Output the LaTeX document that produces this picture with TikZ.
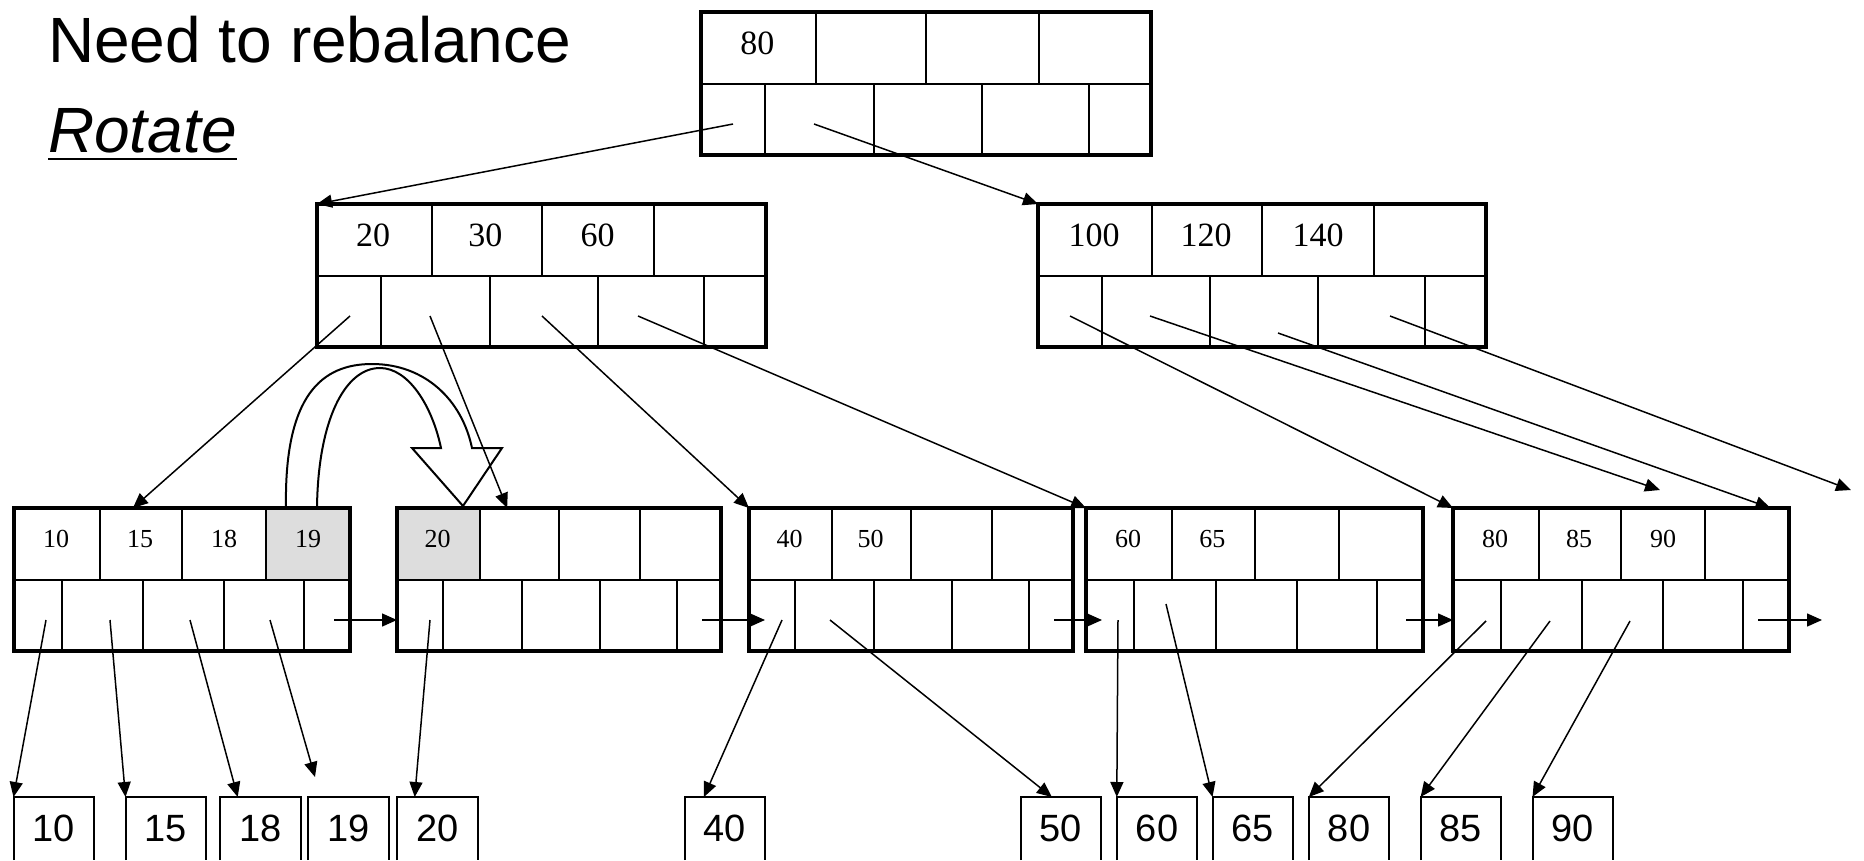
\documentclass[tikz,border=0pt]{standalone}
\usepackage{fontspec}
\setmainfont{Liberation Serif}
\newfontfamily\arialfont{Liberation Sans}
\usepackage{tikz}
\usetikzlibrary{arrows.meta,calc,backgrounds}
\definecolor{Ink}{HTML}{000000}
\definecolor{Shade}{HTML}{DDDDDD}
\tikzset{
  bpage/.style={draw=Ink,line width=4.5pt,minimum height=143pt,outer sep=0pt,inner sep=0pt,anchor=north west},
  cellLine/.style={draw=Ink,line width=2pt},
  dataBox/.style={minimum width=80.5pt,minimum height=63pt,anchor=north west,inner sep=0pt,outer sep=0pt,font=\arialfont\fontsize{38}{40}\selectfont},
  boxLine/.style={draw=Ink,line width=2pt},
  ptr/.style={-{Triangle[length=15pt,width=13pt]},line width=1.5pt,draw=Ink},
  rotArrow/.style={draw=Ink,line width=2pt,line join=miter}
}

\begin{document}
\begin{tikzpicture}[x=1pt,y=-1pt]
  \useasboundingbox (0,0) rectangle (1864,860);

  % heading
  \node[anchor=base west,inner sep=0pt,font=\arialfont\fontsize{64}{70}\selectfont] (title) at (48,62) {Need to rebalance};
  \node[anchor=base west,inner sep=0pt,font=\arialfont\itshape\fontsize{64}{70}\selectfont] (rot) at (48,152) {Rotate};
  \draw[line width=2.7pt] ($(rot.base west)+(0,7)$) -- ($(rot.base east)+(0,7)$);

  % B+ tree pages: keys on top row, pointers below
  \foreach \n/\x/\y/\w/\fs/\keys in {root/701/12/450/34/{80},midL/317/204/449/34/{20,30,60},midR/1038/204/448/34/{100,120,140},
      L1/14/508/336/26/{10,15,18,19},L2/397/508/324/26/{20},L3/749/508/324/26/{40,50},L4/1086/508/337/26/{60,65},L5/1453/508/336/26/{80,85,90}}{
    \node[bpage,minimum width=\w] (\n) at (\x,\y) {};
    \draw[cellLine] (\n.west) -- (\n.east);
    \foreach \f in {.255,.5,.75}{\draw[cellLine] ($(\n.north west)!\f!(\n.north east)$) -- ($(\n.west)!\f!(\n.east)$);}
    \foreach \f in {.143,.385,.625,.863}{\draw[cellLine] ($(\n.west)!\f!(\n.east)$) -- ($(\n.south west)!\f!(\n.south east)$);}
    \foreach \k [count=\i] in \keys{\node[inner sep=0pt,font=\fontsize{\fs}{\fs}\selectfont] (\n-k\i) at ($(\n.north west)!{(\i-.5)/4}!(\n.north east)+(0,31)$) {\k};}
  }
  \begin{scope}[on background layer]
    \fill[Shade] ($(L1.north west)!.75!(L1.north east)$) rectangle (L1.east);
    \fill[Shade] (L2.north west) rectangle ($(L2.west)!.255!(L2.east)$);
  \end{scope}

  % rotation of 19 into the right sibling
  \draw[rotArrow] (286,508) .. controls (284,395) and (322,364) .. (372,364) .. controls (425,364) and (462,400) .. (472,448)
    -- (502,448) -- (463,506) -- (412,448) -- (441,448) .. controls (432,405) and (408,368) .. (380,368) .. controls (345,368) and (318,420) .. (317,508);

  % data records
  \foreach \d/\x in {10/13.5,15/125.5,18/220,19/308,20/397,40/684.6,50/1020.5,60/1116.8,65/1212.5,80/1308.8,85/1420.6,90/1532.5}{
    \node[dataBox] (d\d) at (\x,797) {\d};
    \draw[boxLine] (d\d.south west) |- (d\d.north east) -- (d\d.south east);
  }

  % root and inner pointers
  \coordinate (r1) at (733,124); \coordinate (r2) at (814,124);
  \draw[ptr] (r1) -- (midL.north west);
  \draw[ptr] (r2) -- (midR.north west);
  \coordinate (a1) at (350,316); \coordinate (a2) at (430,316); \coordinate (a3) at (542,316); \coordinate (a4) at (638,316);
  \draw[ptr] (a1) -- ($(L1.north west)!.354!(L1.north east)$);
  \draw[ptr] (a2) -- ($(L2.north west)!.34!(L2.north east)$);
  \draw[ptr] (a3) -- (L3.north west);
  \draw[ptr] (a4) -- (L4.north west);
  \coordinate (b1) at (1070,316); \coordinate (b2) at (1150,316); \coordinate (b3) at (1278,333); \coordinate (b4) at (1390,316);
  \coordinate (e1) at (1660,490); \coordinate (e2) at (1851,490);
  \draw[ptr] (b1) -- (L5.north west);
  \draw[ptr] (b2) -- (e1);
  \draw[ptr] (b3) -- ($(L5.north west)!.945!(L5.north east)$);
  \draw[ptr] (b4) -- (e2);

  % leaf chain
  \coordinate (c1) at (334,620); \coordinate (c2) at (702,620); \coordinate (c3) at (1054,620); \coordinate (c4) at (1406,620);
  \coordinate (c5) at (1758,620); \coordinate (e3) at (1822,620);
  \draw[ptr] (c1) -- (c1 -| L2.west);
  \draw[ptr] (c2) -- ($(c2 -| L3.west)+(16,0)$);
  \draw[ptr] (c3) -- ($(c3 -| L4.west)+(16,0)$);
  \draw[ptr] (c4) -- (c4 -| L5.west);
  \draw[ptr] (c5) -- (e3);

  % leaf pointers to records
  \coordinate (q1) at (46,620); \coordinate (q2) at (110,620); \coordinate (q3) at (190,620); \coordinate (q4) at (270,620);
  \coordinate (q5) at (430,620); \coordinate (q6) at (782,620); \coordinate (q7) at (830,620); \coordinate (q8) at (1118,620);
  \coordinate (q9) at (1166,604); \coordinate (q10) at (1486,621); \coordinate (q11) at (1550,621); \coordinate (q12) at (1630,621);
  \coordinate (e4) at (315,777);
  \draw[ptr] (q1) -- (d10.north west);
  \draw[ptr] (q2) -- (d15.north west);
  \draw[ptr] (q3) -- ($(d18.north west)!.22!(d18.north east)$);
  \draw[ptr] (q4) -- (e4);
  \draw[ptr] (q5) -- ($(d20.north west)!.22!(d20.north east)$);
  \draw[ptr] (q6) -- ($(d40.north west)!.24!(d40.north east)$);
  \draw[ptr] (q7) -- ($(d50.north west)!.39!(d50.north east)$);
  \draw[ptr] (q8) -- (d60.north west);
  \draw[ptr] (q9) -- (d65.north west);
  \draw[ptr] (q10) -- (d80.north west);
  \draw[ptr] (q11) -- (d85.north west);
  \draw[ptr] (q12) -- (d90.north west);
\end{tikzpicture}
\end{document}
